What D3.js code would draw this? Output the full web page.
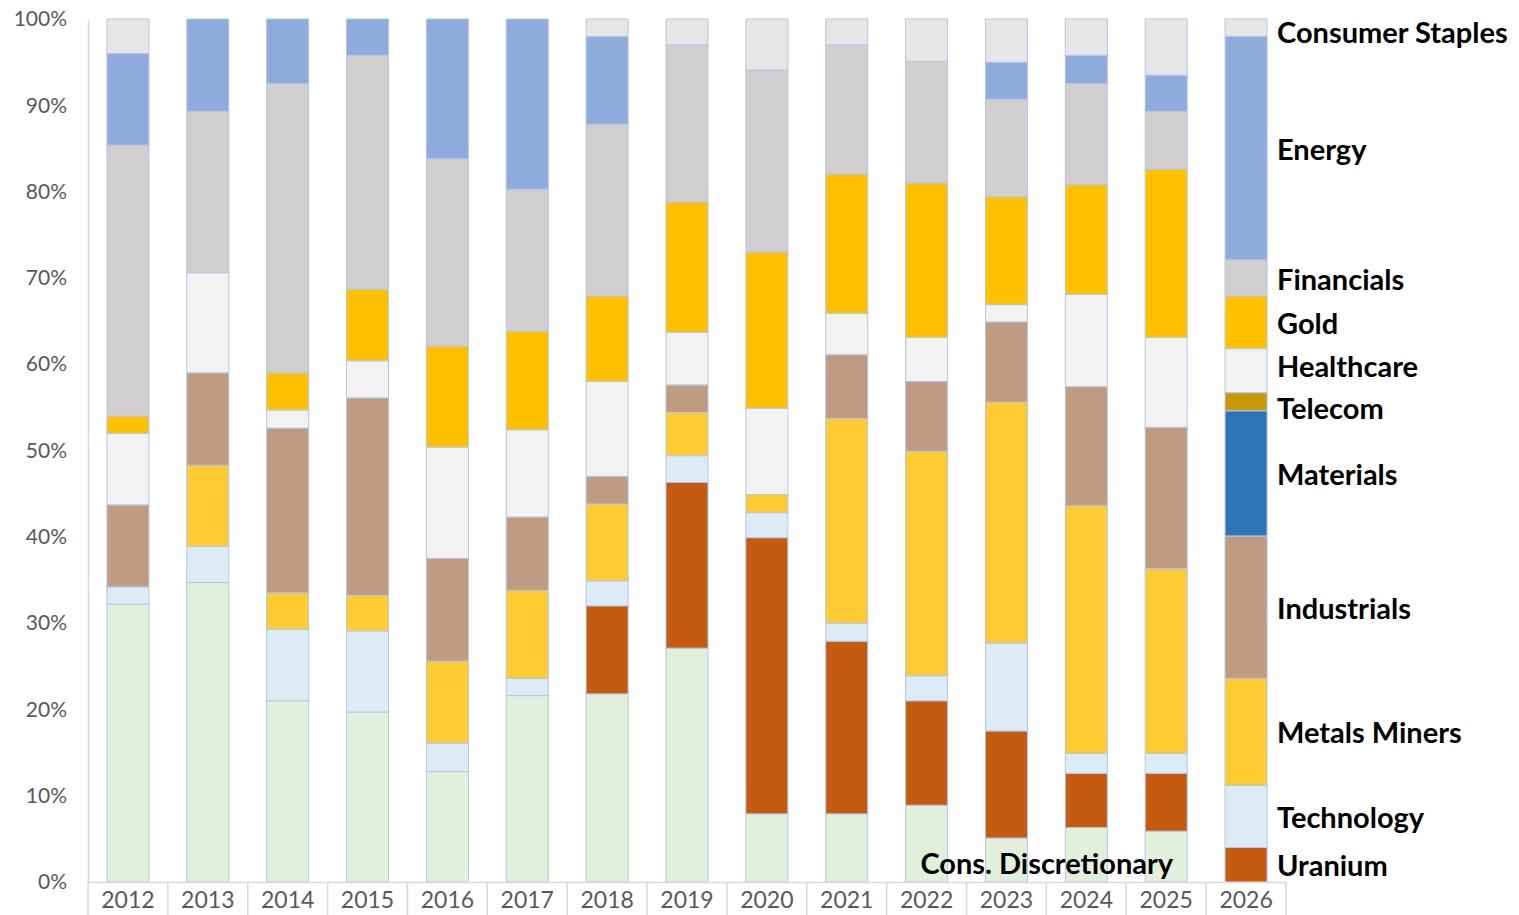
<!DOCTYPE html>
<html>
<head>
<meta charset="utf-8">
<script src="https://cdn.jsdelivr.net/npm/d3@7"></script>
<style>
  body { margin: 0; background: #fff; }
  svg { display: block; }
</style>
</head>
<body>
<div id="chart"></div>
<script>
const years = ['2012', '2013', '2014', '2015', '2016', '2017', '2018', '2019', '2020', '2021', '2022', '2023', '2024', '2025', '2026'];

// sector weights per year, % (bottom of stack first)
const consDiscretionary = [32.2, 34.7, 21.0, 19.7, 12.8, 21.6, 21.8, 27.1, 7.9, 7.9, 8.9, 5.1, 6.3, 5.9, 0];
const uranium = [0, 0, 0, 0, 0, 0, 10.2, 19.2, 32.0, 20.0, 12.1, 12.4, 6.3, 6.7, 4.0];
const technology = [2.0, 4.2, 8.3, 9.4, 3.3, 2.0, 2.9, 3.1, 2.9, 2.1, 2.9, 10.2, 2.3, 2.3, 7.2];
const metalsMiners = [0, 9.4, 4.2, 4.1, 9.5, 10.2, 8.9, 5.0, 2.1, 23.7, 26.0, 27.9, 28.7, 21.4, 12.4];
const industrials = [9.5, 10.7, 19.1, 22.9, 11.9, 8.5, 3.2, 3.2, 0, 7.4, 8.1, 9.3, 13.8, 16.4, 16.5];
const materials = [0, 0, 0, 0, 0, 0, 0, 0, 0, 0, 0, 0, 0, 0, 14.5];
const telecom = [0, 0, 0, 0, 0, 0, 0, 0, 0, 0, 0, 0, 0, 0, 2.1];
const healthcare = [8.3, 11.6, 2.1, 4.3, 12.9, 10.1, 11.0, 6.1, 10.0, 4.8, 5.1, 2.0, 10.7, 10.4, 5.1];
const gold = [2.0, 0, 4.3, 8.3, 11.7, 11.4, 9.9, 15.1, 18.1, 16.1, 17.9, 12.5, 12.7, 19.5, 6.1];
const financials = [31.4, 18.7, 33.5, 27.1, 21.7, 16.5, 19.9, 18.2, 21.1, 15.0, 14.1, 11.3, 11.7, 6.7, 4.2];
const energy = [10.6, 10.7, 7.5, 4.2, 16.2, 19.7, 10.2, 0, 0, 0, 0, 4.3, 3.3, 4.2, 25.9];
const consStaples = [4.0, 0, 0, 0, 0, 0, 2.0, 3.0, 5.9, 3.0, 4.9, 5.0, 4.2, 6.5, 2.0];

const sectorNames = ['Cons. Discretionary', 'Uranium', 'Technology', 'Metals Miners', 'Industrials', 'Materials',
  'Telecom', 'Healthcare', 'Gold', 'Financials', 'Energy', 'Consumer Staples'];
const sectorValues = [consDiscretionary, uranium, technology, metalsMiners, industrials, materials,
  telecom, healthcare, gold, financials, energy, consStaples];
const sectorColors = ['#e2efda', '#c55a11', '#ddebf7', '#fecb33', '#bf9b82', '#2e75b6',
  '#c99a06', '#f2f2f2', '#ffc000', '#d0cece', '#8faadc', '#e7e6e6'];
const yTicks = [0, 0.1, 0.2, 0.3, 0.4, 0.5, 0.6, 0.7, 0.8, 0.9, 1];

const width = 1519;
const height = 915;
const plotLeft = 88, plotRight = 1286, plotTop = 19, plotBottom = 882;

const rows = years.map((yr, i) => {
  const row = { year: yr };
  sectorNames.forEach((s, k) => { row[s] = sectorValues[k][i]; });
  return row;
});

const series = d3.stack()
  .keys(sectorNames)
  .offset(d3.stackOffsetExpand)(rows);

const x = d3.scaleBand()
  .domain(years)
  .range([plotLeft, plotRight])
  .paddingInner(0.474)
  .paddingOuter(0.237);

const y = d3.scaleLinear()
  .domain([0, 1])
  .range([plotBottom, plotTop]);

const color = d3.scaleOrdinal().domain(sectorNames).range(sectorColors);

const svg = d3.select('#chart').append('svg')
  .attr('width', width)
  .attr('height', height);

// stacked bars
svg.append('g')
  .selectAll('g')
  .data(series)
  .join('g')
  .attr('fill', d => color(d.key))
  .selectAll('rect')
  .data(d => d.filter(p => p[1] - p[0] > 1e-6))
  .join('rect')
  .attr('x', d => x(d.data.year))
  .attr('y', d => y(d[1]))
  .attr('width', x.bandwidth())
  .attr('height', d => y(d[0]) - y(d[1]))
  .attr('stroke', '#b4c7e7')
  .attr('stroke-width', 1);

const axisFont = 'Lato, "Open Sans", sans-serif';

// y axis
const yAxis = svg.append('g')
  .attr('transform', `translate(${plotLeft},0)`)
  .call(d3.axisLeft(y).tickValues(yTicks).tickFormat(d3.format('.0%')).tickSize(0).tickPadding(21));
yAxis.select('.domain').attr('stroke', '#d9d9d9').attr('stroke-width', 1.5);
yAxis.selectAll('text')
  .attr('fill', '#595959')
  .style('font-family', axisFont)
  .style('font-size', '21px');

// x axis with category separators
const xAxis = svg.append('g')
  .attr('transform', `translate(0,${plotBottom})`)
  .call(d3.axisBottom(x).tickSize(0).tickPadding(10));
xAxis.select('.domain').attr('stroke', '#d9d9d9').attr('stroke-width', 1.5);
xAxis.selectAll('text')
  .attr('fill', '#595959')
  .style('font-family', axisFont)
  .style('font-size', '23px');

const step = x.step();
xAxis.selectAll('line.sep')
  .data(d3.range(years.length + 1))
  .join('line')
  .attr('class', 'sep')
  .attr('x1', i => plotLeft + i * step)
  .attr('x2', i => plotLeft + i * step)
  .attr('y1', 0)
  .attr('y2', height - plotBottom)
  .attr('stroke', '#d9d9d9')
  .attr('stroke-width', 1.5);

// sector labels beside last bar, at segment mid-points, crowded pairs pushed apart
const last = years.length - 1;
const labelItems = series
  .filter(s => s[last][1] - s[last][0] > 1e-6)
  .map(s => ({ key: s.key, y: y((s[last][0] + s[last][1]) / 2) }));

labelItems.sort((a, b) => b.y - a.y);
for (let i = 1; i < labelItems.length; i++) {
  const gap = labelItems[i - 1].y - labelItems[i].y;
  if (gap < 42) {
    labelItems[i - 1].y += (42 - gap) / 2;
    labelItems[i].y -= (42 - gap) / 2;
  }
}
labelItems.forEach(d => { d.y = Math.max(d.y, plotTop + 12); });

svg.append('g')
  .selectAll('text')
  .data(labelItems)
  .join('text')
  .attr('x', plotRight - 9)
  .attr('y', d => d.y)
  .attr('dy', '0.4em')
  .style('font-family', axisFont)
  .style('font-weight', 'bold')
  .style('font-size', '29px')
  .attr('fill', '#000')
  .text(d => d.key);

// zero-valued bottom sector in last year gets its label to the left
svg.append('text')
  .attr('x', x(years[last]) - x.step() * 0.237 - 33)
  .attr('y', 862)
  .attr('dy', '0.4em')
  .attr('text-anchor', 'end')
  .style('font-family', axisFont)
  .style('font-weight', 'bold')
  .style('font-size', '29px')
  .attr('fill', '#000')
  .text(sectorNames[0]);
</script>
</body>
</html>
